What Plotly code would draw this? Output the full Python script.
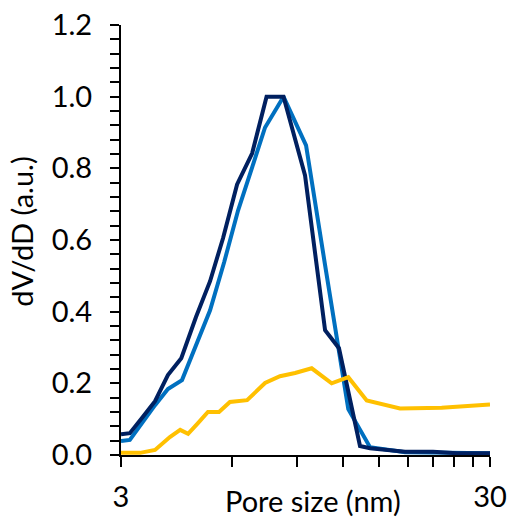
import plotly.graph_objects as go

# Pore size (nm) and dV/dD (a.u.)
navy_x = [3.00, 3.17, 3.44, 3.71, 4.02, 4.37, 4.79, 5.23, 5.67, 6.19, 6.80, 7.44, 8.27,
          9.46, 10.72, 11.69, 13.33, 14.19, 17.66, 21.03, 24.37, 30.0]
navy_y = [0.058, 0.061, 0.107, 0.150, 0.223, 0.270, 0.385, 0.485, 0.605, 0.755, 0.842, 1.000, 1.000,
          0.780, 0.348, 0.298, 0.025, 0.019, 0.009, 0.009, 0.005, 0.005]

blue_x = [3.00, 3.17, 3.71, 4.02, 4.39, 4.82, 5.23, 5.71, 6.23, 6.80, 7.37, 8.27,
          9.52, 10.72, 12.39, 14.19, 17.66, 30.0]
blue_y = [0.039, 0.042, 0.139, 0.184, 0.209, 0.315, 0.404, 0.538, 0.683, 0.803, 0.914, 1.000,
          0.864, 0.530, 0.128, 0.022, 0.008, 0.005]

yellow_x = [3.00, 3.38, 3.71, 4.07, 4.34, 4.56, 4.85, 5.16, 5.53, 5.92, 6.59, 7.37, 8.09,
            8.89, 9.86, 11.17, 12.39, 13.90, 17.11, 22.19, 30.0]
yellow_y = [0.006, 0.006, 0.014, 0.050, 0.070, 0.059, 0.089, 0.120, 0.120, 0.148, 0.153, 0.201, 0.220,
            0.229, 0.242, 0.200, 0.217, 0.152, 0.130, 0.132, 0.141]

x_major_ticks = [3, 30]
x_major_labels = ["3", "30"]
x_minor_ticks = [6, 9, 12, 15, 18, 21, 24, 27]
y_major_ticks = [0.0, 0.2, 0.4, 0.6, 0.8, 1.0, 1.2]
y_major_labels = ["0.0", "0.2", "0.4", "0.6", "0.8", "1.0", "1.2"]

x_title = "Pore size (nm)"
y_title = "dV/dD (a.u.)"

FONT = "Lato"
FS = 29
fig = go.Figure()
fig.add_trace(go.Scatter(x=blue_x, y=blue_y, mode="lines",
                         line=dict(color="#0070C0", width=4), showlegend=False))
fig.add_trace(go.Scatter(x=navy_x, y=navy_y, mode="lines",
                         line=dict(color="#002060", width=4), showlegend=False))
fig.add_trace(go.Scatter(x=yellow_x, y=yellow_y, mode="lines",
                         line=dict(color="#FFC000", width=4), showlegend=False))

fig.update_layout(
    width=508, height=520,
    margin=dict(l=121, r=18, t=25, b=65, autoexpand=False),
    paper_bgcolor="white", plot_bgcolor="white",
    font=dict(family=FONT, size=FS, color="black"),
    xaxis=dict(
        type="log", range=[0.47712125, 1.47712125], automargin=False,
        tickmode="array", tickvals=x_major_ticks, ticktext=x_major_labels,
        ticks="outside", ticklen=10, tickwidth=2, tickcolor="black",
        ticklabelstandoff=5,
        minor=dict(tickmode="array", tickvals=x_minor_ticks, ticks="outside",
                   ticklen=10, tickwidth=2, tickcolor="black", showgrid=False),
        showline=True, linecolor="black", linewidth=2,
        showgrid=False, zeroline=False,
        tickfont=dict(family=FONT, size=FS, color="black"),
    ),
    yaxis=dict(
        range=[0, 1.2], automargin=False,
        tickmode="array", tickvals=y_major_ticks, ticktext=y_major_labels,
        ticks="outside", ticklen=9, tickwidth=2, tickcolor="black",
        ticklabelstandoff=12,
        minor=dict(dtick=0.04, tick0=0, ticks="outside", ticklen=9, tickwidth=2,
                   tickcolor="black", showgrid=False),
        showline=True, linecolor="black", linewidth=2,
        showgrid=False, zeroline=False,
        tickfont=dict(family=FONT, size=FS, color="black"),
    ),
    annotations=[
        dict(text=x_title, xref="paper", yref="paper", x=0.52, y=-0.106,
             xanchor="center", yanchor="middle", showarrow=False,
             font=dict(family=FONT, size=FS, color="black")),
        dict(text=y_title, xref="paper", yref="paper", x=-0.27, y=0.52,
             xanchor="center", yanchor="middle", textangle=-90, showarrow=False,
             font=dict(family=FONT, size=FS, color="black")),
    ],
)

fig.write_html("out.html")
